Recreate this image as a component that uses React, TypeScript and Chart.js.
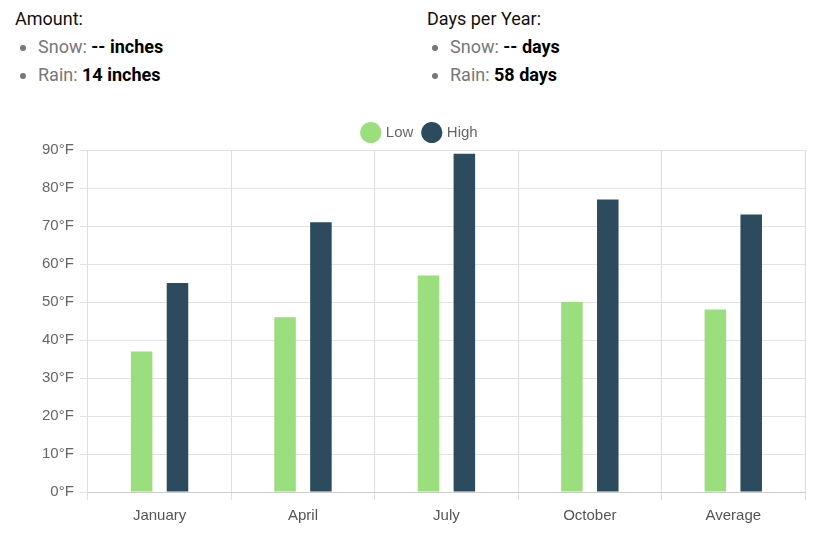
import React, { useEffect, useRef } from "react";
import { Chart, registerables } from "chart.js";

Chart.register(...registerables);

const categories = ["January", "April", "July", "October", "Average"];
const lowTemps = [37, 46, 57, 50, 48];
const highTemps = [55, 71, 89, 77, 73];
const seriesNames = ["Low", "High"];
const amountItems = [
  { label: "Snow", value: "-- inches" },
  { label: "Rain", value: "14 inches" },
];
const daysItems = [
  { label: "Snow", value: "-- days" },
  { label: "Rain", value: "58 days" },
];

const LOW_COLOR = "#9ade7d";
const HIGH_COLOR = "#2d4b5f";
const FONT = "'Liberation Sans', Arial, Helvetica, sans-serif";

function InfoColumn({ title, items }: { title: string; items: { label: string; value: string }[] }) {
  return (
    <div style={{ width: 412, flexShrink: 0 }}>
      <div style={{ fontSize: 18, lineHeight: "28px", color: "#111" }}>{title}</div>
      <ul style={{ margin: 0, paddingLeft: 23, color: "#777" }}>
        {items.map((it) => (
          <li key={it.label} style={{ fontSize: 18, lineHeight: "28px" }}>
            <span style={{ color: "#777" }}>{it.label}: </span>
            <b style={{ color: "#000" }}>{it.value}</b>
          </li>
        ))}
      </ul>
    </div>
  );
}

export default function App() {
  const ref = useRef<HTMLCanvasElement>(null);
  useEffect(() => {
    if (!ref.current) return;
    const chart = new Chart(ref.current, {
      type: "bar",
      data: {
        labels: categories,
        datasets: [
          { label: seriesNames[0], data: lowTemps, backgroundColor: LOW_COLOR, categoryPercentage: 0.5, barPercentage: 0.6 },
          { label: seriesNames[1], data: highTemps, backgroundColor: HIGH_COLOR, categoryPercentage: 0.5, barPercentage: 0.6 },
        ],
      },
      options: {
        animation: false,
        responsive: true,
        maintainAspectRatio: false,
        layout: { padding: { left: 28, right: 3, top: 2, bottom: 3 } },
        plugins: {
          legend: {
            labels: {
              usePointStyle: true,
              pointStyle: "circle",
              color: "#666",
              font: { family: FONT, size: 15 },
              padding: 11,
            },
          },
          tooltip: { enabled: false },
        },
        scales: {
          x: {
            grid: { color: "#dddddd" },
            border: { color: "#cccccc" },
            ticks: { color: "#555", padding: 7, font: { family: FONT, size: 15 } },
          },
          y: {
            min: 0,
            max: 90,
            grid: { color: "#e2e2e2" },
            border: { color: "#dddddd" },
            ticks: {
              stepSize: 10,
              color: "#666",
              padding: 6,
              font: { family: FONT, size: 15 },
              callback: (v: any) => `${v}°F`,
            },
          },
        },
      },
    });
    return () => chart.destroy();
  }, []);

  return (
    <div style={{ fontFamily: "Roboto, 'Noto Sans', sans-serif" }}>
      <div style={{ display: "flex", paddingLeft: 7, height: 104, marginTop: -3, marginBottom: 3 }}>
        <InfoColumn title="Amount:" items={amountItems} />
        <InfoColumn title="Days per Year:" items={daysItems} />
      </div>
      <div style={{ position: "relative", width: 800, height: 423 }}>
        <canvas ref={ref} />
      </div>
    </div>
  );
}
